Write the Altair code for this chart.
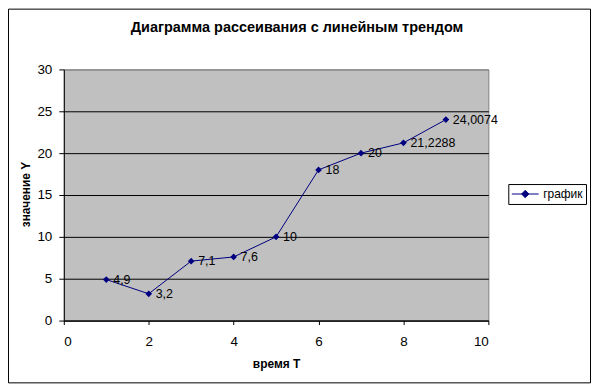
import altair as alt
import pandas as pd

# ---- data ----
times = [1, 2, 3, 4, 5, 6, 7, 8, 9]
values = [4.9, 3.2, 7.1, 7.6, 10, 18, 20, 21.2288, 24.0074]
labels = ["4,9", "3,2", "7,1", "7,6", "10", "18", "20", "21,2288", "24,0074"]
series_name = "график"
x_ticks = [0, 2, 4, 6, 8, 10]
y_ticks = [0, 5, 10, 15, 20, 25, 30]

df = pd.DataFrame({
    "t": times,
    "y": values,
    "label": labels,
    "series": [series_name] * len(times),
})

FONT = "Liberation Sans"
NAVY = "#000080"

x_enc = alt.X(
    "t:Q",
    scale=alt.Scale(domain=[0, 10], nice=False, zero=False),
    axis=alt.Axis(
        values=x_ticks, title="время Т", grid=False, tickSize=4, labelPadding=10,
        titleY=47, titleBaseline="alphabetic",
    ),
)
y_enc = alt.Y(
    "y:Q",
    scale=alt.Scale(domain=[0, 30], nice=False),
    axis=alt.Axis(
        values=y_ticks, title="значение Y", grid=True,
        gridColor={"condition": {"test": "datum.value === 30", "value": "#808080"}, "value": "black"},
        tickSize=5, labelPadding=7,
        titleAngle=270, titleX=-34, titleY=125, titleBaseline="alphabetic",
    ),
)

base = alt.Chart(df)

line = base.mark_line(color=NAVY, strokeWidth=1).encode(x=x_enc, y=y_enc)

points = base.mark_point(shape="diamond", filled=True, size=45, opacity=1).encode(
    x="t:Q",
    y="y:Q",
    color=alt.Color(
        "series:N",
        scale=alt.Scale(domain=[series_name], range=[NAVY]),
        legend=alt.Legend(
            title=None, orient="none", legendX=446, legendY=115,
            symbolType="M-1,0H1M0,-0.27L0.27,0L0,0.27L-0.27,0Z",
            symbolSize=729, symbolStrokeColor=NAVY, symbolStrokeWidth=1,
            symbolFillColor=NAVY,
        ),
    ),
)

texts = base.mark_text(
    align="left", baseline="middle", dx=7, font=FONT, fontSize=12.5, color="black"
).encode(x="t:Q", y="y:Q", text="label:N")

border = alt.Chart(pd.DataFrame({"k": [0]})).mark_rect(
    filled=False, stroke="black", strokeWidth=1
).encode(
    x=alt.value(-55.5), x2=alt.value(528.5), y=alt.value(-60.5), y2=alt.value(314.5)
)

chart = alt.layer(line, points, texts, border).properties(
    width=426,
    height=252,
    autosize=alt.AutoSizeParams(type="none"),
    padding={"left": 56, "top": 61, "right": 103, "bottom": 63},
    background="white",
    title=alt.TitleParams(
        text="Диаграмма рассеивания с линейным трендом",
        font=FONT, fontSize=14.5, fontWeight="bold", color="black",
        anchor="middle", frame="group", dx=21, offset=-38, baseline="alphabetic",
    ),
).configure_view(
    fill="#c0c0c0", stroke="#808080", strokeWidth=1
).configure_axis(
    domainColor="black", tickColor="black", labelColor="black",
    labelFont=FONT, labelFontSize=13.5, titleFont=FONT, titleFontSize=12,
    titleFontWeight="bold", titleColor="black",
).configure_legend(
    strokeColor="black", fillColor="white", padding=3, labelFont=FONT,
    labelFontSize=12, labelColor="black", clipHeight=14, labelOffset=4,
)

chart.save("out.html", embed_options={"renderer": "svg", "actions": False})
